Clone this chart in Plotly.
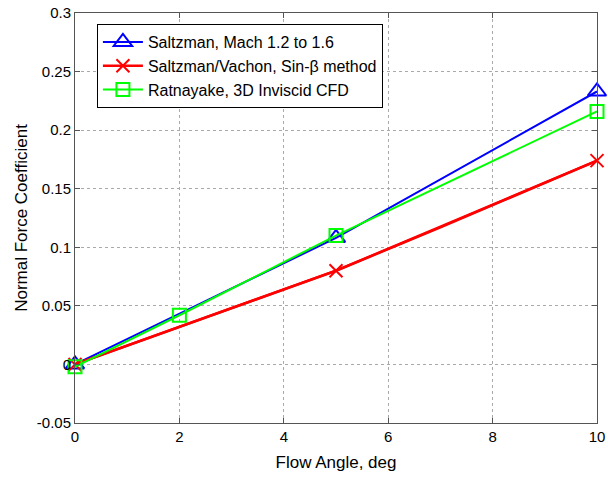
import plotly.graph_objects as go

blue_x = [0, 5, 10]
blue_y = [0.0, 0.108, 0.233]
red_x = [0, 5, 7, 10]
red_y = [0.0, 0.080, 0.117, 0.174]
red_marker_x = [0, 5, 10]
red_marker_y = [0.0, 0.080, 0.174]
green_x = [0, 2, 5, 10]
green_y = [-0.002, 0.042, 0.110, 0.216]

x_ticks = [0, 2, 4, 6, 8, 10]
y_ticks = [-0.05, 0, 0.05, 0.1, 0.15, 0.2, 0.25, 0.3]
y_tick_labels = ["-0.05", "0", "0.05", "0.1", "0.15", "0.2", "0.25", "0.3"]

fig = go.Figure()
fig.add_trace(go.Scatter(x=blue_x, y=blue_y, mode="lines+markers",
                         name="Saltzman, Mach 1.2 to 1.6", cliponaxis=False,
                         line=dict(color="#0000ff", width=2),
                         marker=dict(symbol="triangle-up-open", size=16,
                                     line=dict(color="#0000ff", width=2))))
fig.add_trace(go.Scatter(x=red_x, y=red_y, mode="lines", showlegend=False,
                         cliponaxis=False,
                         line=dict(color="#ff0000", width=2.5)))
fig.add_trace(go.Scatter(x=red_marker_x, y=red_marker_y, mode="lines+markers",
                         name="Saltzman/Vachon, Sin-β method", cliponaxis=False,
                         line=dict(color="#ff0000", width=2.5),
                         marker=dict(symbol="x-thin-open", size=13,
                                     line=dict(color="#ff0000", width=2))))
fig.add_trace(go.Scatter(x=green_x, y=green_y, mode="lines+markers",
                         name="Ratnayake, 3D Inviscid CFD", cliponaxis=False,
                         line=dict(color="#00ff00", width=2),
                         marker=dict(symbol="square-open", size=13,
                                     line=dict(color="#00ff00", width=2))))

axis_common = dict(showline=True, linecolor="#555555", linewidth=1, mirror="ticks",
                   ticks="inside", ticklen=5, tickcolor="#555555",
                   showgrid=True, gridcolor="#aaaaaa", griddash="dot", gridwidth=1,
                   zeroline=False, tickfont=dict(size=15, color="black"),
                   title_font=dict(size=17, color="black"), automargin=False)

fig.update_xaxes(range=[0, 10], tickvals=x_ticks, title_text="Flow Angle, deg",
                 title_standoff=12, **axis_common)
fig.update_yaxes(range=[-0.05, 0.3], tickvals=y_ticks, ticktext=y_tick_labels,
                 title_text="Normal Force Coefficient", title_standoff=4, **axis_common)

fig.update_layout(
    width=608, height=477,
    margin=dict(l=75, r=11, t=13, b=54),
    paper_bgcolor="white", plot_bgcolor="white",
    font=dict(family="Liberation Sans, Arial, sans-serif", size=15, color="black"),
    legend=dict(x=0.042, y=0.973, xanchor="left", yanchor="top",
                bgcolor="white", bordercolor="black", borderwidth=1,
                font=dict(size=16), tracegroupgap=0, itemwidth=40),
    showlegend=True,
)

fig.write_html("out.html",
               config={"displayModeBar": False},
               post_script="document.body.style.margin='0';document.body.style.overflow='hidden';")
